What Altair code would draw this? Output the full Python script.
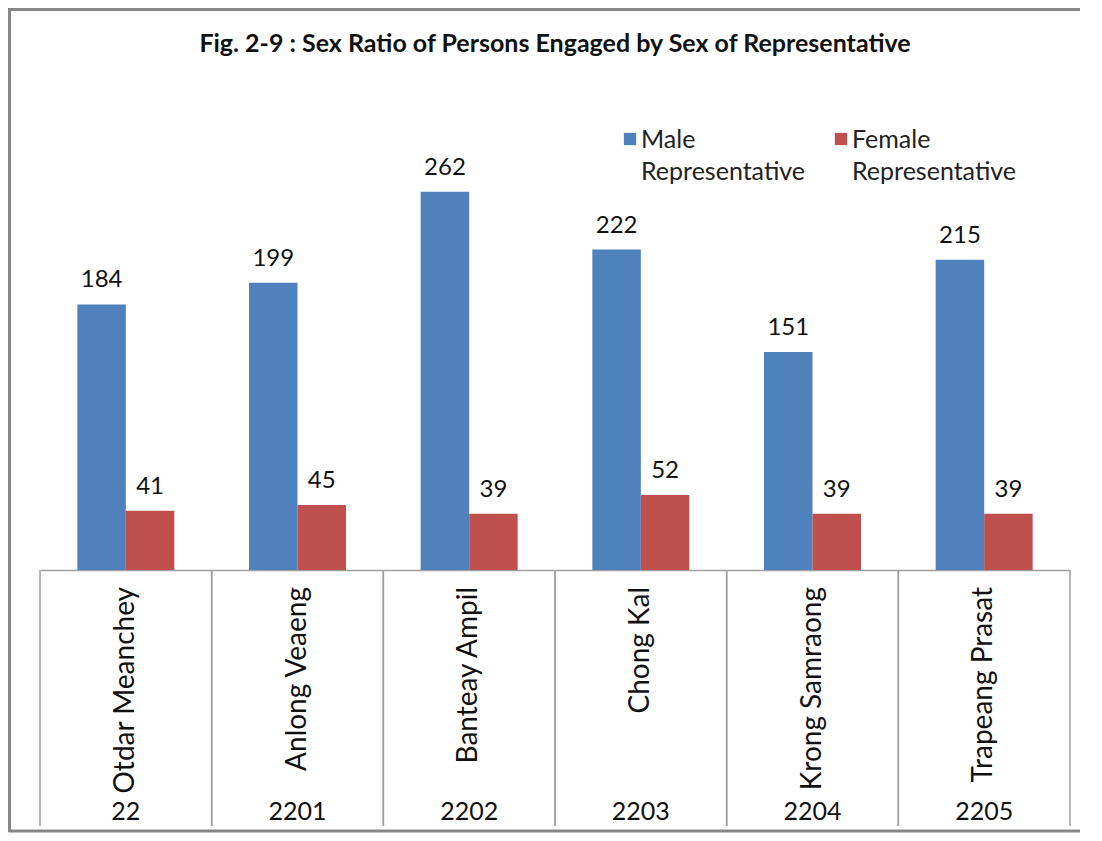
import altair as alt
import pandas as pd

categories = ["Otdar Meanchey", "Anlong Veaeng", "Banteay Ampil", "Chong Kal", "Krong Samraong", "Trapeang Prasat"]
codes = ["22", "2201", "2202", "2203", "2204", "2205"]
series = ["Male Representative", "Female Representative"]
colors = ["#4f81bd", "#c0504d"]
male = [184, 199, 262, 222, 151, 215]
female = [41, 45, 39, 52, 39, 39]
title_text = "Fig. 2-9 : Sex Ratio of Persons Engaged by Sex of  Representative"

rows = []
for c, m, f in zip(categories, male, female):
    rows.append({"cat": c, "series": series[0], "value": m})
    rows.append({"cat": c, "series": series[1], "value": f})
df = pd.DataFrame(rows)
cat_df = pd.DataFrame({"cat": categories, "code": codes})

W, H = 1030, 433
FONT = "Lato"

x_enc = alt.X("cat:N", sort=categories,
              scale=alt.Scale(paddingInner=0, paddingOuter=0),
              axis=alt.Axis(domain=True, domainColor="#a0a0a0", domainWidth=1.5,
                            ticks=False, labels=False, title=None, grid=False))
xo_enc = alt.XOffset("series:N", sort=series, scale=alt.Scale(paddingInner=0, paddingOuter=0.77))
y_enc = alt.Y("value:Q", scale=alt.Scale(domain=[0, 300]), axis=None)

bars = alt.Chart(df).mark_bar().encode(
    x=x_enc, xOffset=xo_enc, y=y_enc,
    color=alt.Color("series:N", sort=series,
                    scale=alt.Scale(domain=series, range=colors), legend=None),
)

labels = alt.Chart(df).mark_text(baseline="bottom", dy=-12, font=FONT, fontSize=24, color="#111").encode(
    x=x_enc, xOffset=xo_enc, y=y_enc, text="value:Q"
)

rule_left = alt.Chart(cat_df).mark_rule(color="#a0a0a0", strokeWidth=1.5).encode(
    x=alt.X("cat:N", sort=categories, bandPosition=0), y=alt.value(H), y2=alt.value(689)
)
rule_right = alt.Chart(cat_df).mark_rule(color="#a0a0a0", strokeWidth=1.5).encode(
    x=alt.X("cat:N", sort=categories, bandPosition=1), y=alt.value(H), y2=alt.value(689)
)

names = alt.Chart(cat_df).mark_text(angle=270, align="right", baseline="middle",
                                    font=FONT, fontSize=28, color="#111").encode(
    x=alt.X("cat:N", sort=categories), y=alt.value(450), text="cat:N"
)
code_text = alt.Chart(cat_df).mark_text(baseline="middle", font=FONT, fontSize=25, color="#111").encode(
    x=alt.X("cat:N", sort=categories), y=alt.value(675), text="code:N"
)

# legend (manual, two-line labels like the original)
leg_layers = []
for i, (s, col) in enumerate(zip(series, colors)):
    ldf = pd.DataFrame({"series": [s], "label": [s.replace(" ", "\n")]})
    sx = 590 + i * 211
    leg_layers.append(alt.Chart(ldf).mark_square(size=150, opacity=1, color=col).encode(
        x=alt.value(sx), y=alt.value(2)))
    leg_layers.append(alt.Chart(ldf).mark_text(align="left", baseline="alphabetic", lineBreak="\n",
                                               lineHeight=32, font=FONT, fontSize=25, color="#222").encode(
        x=alt.value(sx + 11), y=alt.value(11), text="label:N"))

# outer chart-area border: top, left and bottom edges (right edge is cut off in the original)
border_df = pd.DataFrame({"k": [0]})
border_style = dict(color="#888888", strokeWidth=3)
border_top = alt.Chart(border_df).mark_rule(**border_style).encode(
    x=alt.value(-31.5), x2=alt.value(1054), y=alt.value(-127.5))
border_left = alt.Chart(border_df).mark_rule(**border_style).encode(
    x=alt.value(-30.5), y=alt.value(-129), y2=alt.value(695))
border_bottom = alt.Chart(border_df).mark_rule(**border_style).encode(
    x=alt.value(-31.5), x2=alt.value(1054), y=alt.value(694))

chart = alt.layer(border_top, border_left, border_bottom, rule_left, rule_right, bars, labels,
                  names, code_text, *leg_layers).properties(
    width=W, height=H,
    title=alt.TitleParams(title_text, font=FONT, fontSize=25, fontWeight="bold", color="#111",
                          anchor="middle", baseline="middle", offset=-62),
    autosize=alt.AutoSizeParams(type="none"),
    padding={"left": 32, "top": 129, "right": 10, "bottom": 263},
).configure(background="white").configure_view(stroke=None)

chart.save("out.html", embed_options={"renderer": "svg", "actions": False})
